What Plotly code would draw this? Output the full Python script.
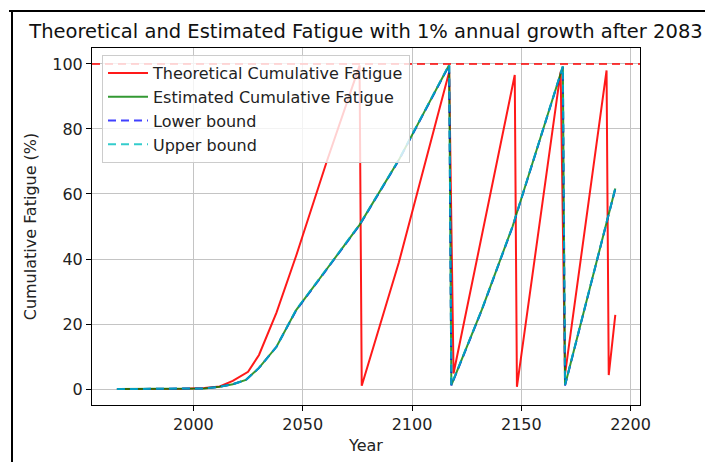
import plotly.graph_objects as go

# ---- data ----
years_theo = [1965, 1975, 1985, 1995, 2005, 2012, 2018, 2025, 2030, 2038, 2047, 2061,
              2076, 2077, 2094, 2117, 2119, 2147, 2148, 2168, 2170, 2189, 2190, 2193]
theo = [0, 0, 0, 0.1, 0.3, 0.8, 2.5, 5.3, 10.5, 23.5, 41, 70,
        99.5, 1.0, 39, 97.5, 4.8, 96.6, 0.7, 97.6, 4.5, 98, 4.3, 22.8]

years_est = [1965, 1975, 1985, 1995, 2005, 2012, 2018, 2024, 2030, 2038, 2047, 2060,
             2076, 2094, 2117, 2118, 2132, 2146, 2169, 2170, 2181, 2193]
est = [0, 0, 0, 0, 0.2, 0.7, 1.5, 2.8, 6.5, 13, 24.3, 36,
       50.5, 70.5, 99.7, 1.2, 24.5, 50, 99.2, 1.2, 30, 61.7]
lower = [0, 0, 0, 0, 0.2, 0.7, 1.5, 2.8, 6.5, 13, 24.2, 35.9,
         50.4, 70.4, 99.6, 1.1, 24.4, 49.9, 99.1, 1.1, 29.9, 61.6]
upper = [0, 0, 0, 0, 0.2, 0.7, 1.5, 2.8, 6.5, 13, 24.4, 36.1,
         50.6, 70.6, 99.8, 1.3, 24.6, 50.1, 99.3, 1.3, 30.1, 61.8]

limit = 100
title = "Theoretical and Estimated Fatigue with 1% annual growth after 2083"
x_ticks = [2000, 2050, 2100, 2150, 2200]
y_ticks = [0, 20, 40, 60, 80, 100]

FONT = "DejaVu Sans"
W, H = 705, 462
L, R, T, B = 92, 640, 48, 405
FS = 16

fig = go.Figure()
fig.add_trace(go.Scatter(x=years_theo, y=theo, mode="lines", name="Theoretical Cumulative Fatigue",
                         line=dict(color="rgba(255,0,0,0.9)", width=2), legendgroup="a"))
fig.add_trace(go.Scatter(x=years_est, y=est, mode="lines", name="Estimated Cumulative Fatigue",
                         line=dict(color="rgba(0,128,0,0.8)", width=2), legendgroup="b"))
fig.add_trace(go.Scatter(x=years_est, y=lower, mode="lines", name="Lower bound",
                         line=dict(color="rgba(0,0,255,0.75)", width=2, dash="8px,5px"), legendgroup="c"))
fig.add_trace(go.Scatter(x=years_est, y=upper, mode="lines", name="Upper bound",
                         line=dict(color="rgba(0,191,191,0.8)", width=2, dash="8px,5px"), legendgroup="d"))

def px_x(p):
    return (p - L) / (R - L)

def px_y(p):
    return (B - p) / (B - T)

shapes = [
    # horizontal 100% limit line
    dict(type="line", xref="paper", yref="y", x0=0, x1=1, y0=limit, y1=limit,
         line=dict(color="rgba(255,0,0,0.75)", width=2, dash="8px,5px"), layer="above"),
    # outer screenshot frame
    dict(type="line", xref="paper", yref="paper", x0=px_x(9), x1=px_x(710), y0=px_y(11), y1=px_y(11),
         line=dict(color="black", width=2)),
    dict(type="line", xref="paper", yref="paper", x0=px_x(12), x1=px_x(12), y0=px_y(11), y1=px_y(470),
         line=dict(color="black", width=2)),
]

axis_common = dict(showline=True, linecolor="black", linewidth=1, mirror=True,
                   ticks="outside", ticklen=5, tickcolor="black", tickwidth=1,
                   showgrid=True, gridcolor="#c4c4c4", gridwidth=1, zeroline=False,
                   tickfont=dict(family=FONT, size=FS, color="#222"))

fig.update_layout(
    width=W, height=H,
    margin=dict(l=L, r=W - R, t=T, b=H - B, pad=0),
    paper_bgcolor="white", plot_bgcolor="white",
    font=dict(family=FONT, color="#222"),
    title=dict(text=title, x=(L + R) / 2 / W, xanchor="center", xref="container",
               y=1 - 31 / H, yanchor="middle", yref="container",
               font=dict(family=FONT, size=19.5, color="#111")),
    xaxis=dict(range=[1953.6, 2204.3], tickvals=x_ticks,
               title=dict(text="Year", standoff=6, font=dict(family=FONT, size=FS, color="#222")),
               **axis_common),
    yaxis=dict(range=[-4.9, 104.9], tickvals=y_ticks,
               title=dict(text="Cumulative Fatigue (%)", standoff=11, font=dict(family=FONT, size=FS, color="#222")),
               **axis_common),
    legend=dict(x=px_x(102), y=px_y(55), xanchor="left", yanchor="top",
                bgcolor="rgba(255,255,255,0.8)", bordercolor="#cccccc", borderwidth=1,
                font=dict(family=FONT, size=FS, color="#222"),
                traceorder="grouped", tracegroupgap=0, itemwidth=40),
    shapes=shapes,
    showlegend=True,
)

fig.write_html("out.html")
